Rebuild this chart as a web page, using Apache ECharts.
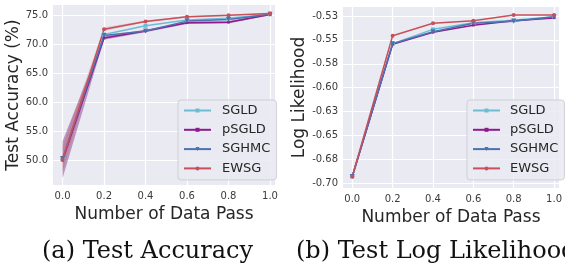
<!DOCTYPE html>
<html>
<head>
<meta charset="utf-8">
<script src="https://cdn.jsdelivr.net/npm/echarts@6/dist/echarts.min.js"></script>
<style>
  html, body { margin: 0; padding: 0; background: #fff; }
  #chart { width: 565px; height: 266px; }
</style>
</head>
<body>
<div id="chart"></div>
<script>
// data pass fractions on the x axis
const passes = [0.0, 0.2, 0.4, 0.6, 0.8, 1.0];
const methods = ['SGLD', 'pSGLD', 'SGHMC', 'EWSG'];

// (a) test accuracy, %
const accSGLD  = [50.2, 71.7, 73.2, 74.2, 74.5, 75.2];
const accPSGLD = [50.0, 71.1, 72.3, 73.7, 73.8, 75.15];
const accSGHMC = [50.3, 71.5, 72.3, 74.0, 74.3, 75.2];
const accEWSG  = [50.1, 72.6, 73.95, 74.75, 75.0, 75.3];
// shaded spread around pSGLD and EWSG
const bandPSGLDLow  = [46.9, 70.8, 72.1, 73.5, 73.6, 75.0];
const bandPSGLDHigh = [53.3, 71.4, 72.5, 73.9, 74.0, 75.3];
const bandEWSGLow   = [48.0, 72.3, 73.8, 74.6, 74.9, 75.2];
const bandEWSGHigh  = [52.4, 72.9, 74.1, 74.9, 75.1, 75.4];

// (b) test log likelihood
const llSGLD  = [-0.693, -0.554, -0.539, -0.532, -0.5295, -0.5257];
const llPSGLD = [-0.693, -0.5546, -0.542, -0.5347, -0.530, -0.527];
const llSGHMC = [-0.693, -0.554, -0.5414, -0.5326, -0.5305, -0.5257];
const llEWSG  = [-0.693, -0.5456, -0.5326, -0.5299, -0.524, -0.524];

// tick labels
const accTicks = [50, 55, 60, 65, 70, 75];
const accTickLabels = ['50.0', '55.0', '60.0', '65.0', '70.0', '75.0'];
const llTicks = [-0.7, -0.675, -0.65, -0.625, -0.6, -0.575, -0.55, -0.525];
const llTickLabels = ['-0.70', '-0.68', '-0.65', '-0.63', '-0.60', '-0.58', '-0.55', '-0.53'];
const passTicks = [0, 0.2, 0.4, 0.6, 0.8, 1.0];
const passTickLabels = ['0.0', '0.2', '0.4', '0.6', '0.8', '1.0'];

const colors = { SGLD: '#6cbcd6', pSGLD: '#8e1a8e', SGHMC: '#4c72b0', EWSG: '#c8505a' };
const symbols = { SGLD: 'rect', pSGLD: 'rect', SGHMC: 'triangle', EWSG: 'circle' };
const symbolSizes = { SGLD: 4, pSGLD: 2.5, SGHMC: 5, EWSG: 4 };

const chart = echarts.init(document.getElementById('chart'));
const font = 'DejaVu Sans';

function xAxisFor(gridIndex) {
    return {
        type: 'value', gridIndex: gridIndex, min: -0.046, max: 1.024,
        name: 'Number of Data Pass', nameLocation: 'middle', nameGap: 15,
        nameTextStyle: { fontFamily: font, fontSize: 17, color: '#262626' },
        axisLine: { show: false }, axisTick: { show: false, customValues: passTicks },
        axisLabel: {
            customValues: passTicks, fontFamily: font, fontSize: 10, color: '#3a3a3a', margin: 6,
            formatter: v => passTickLabels[passTicks.findIndex(t => Math.abs(t - v) < 1e-6)]
        },
        splitLine: { show: true, lineStyle: { color: '#ffffff', width: 1.2 } }
    };
}

function yAxisFor(gridIndex, min, max, ticks, labels, name, gap) {
    return {
        type: 'value', gridIndex: gridIndex, min: min, max: max,
        name: name, nameLocation: 'middle', nameGap: gap,
        nameTextStyle: { fontFamily: font, fontSize: 17, color: '#262626' },
        axisLine: { show: false }, axisTick: { show: false, customValues: ticks },
        axisLabel: {
            customValues: ticks, fontFamily: font, fontSize: 10, color: '#3a3a3a', margin: 5,
            formatter: v => labels[ticks.findIndex(t => Math.abs(t - v) < 1e-6)]
        },
        splitLine: { show: true, lineStyle: { color: '#ffffff', width: 1.2 } }
    };
}

function lineSeries(name, values, axisIndex) {
    return {
        name: name, type: 'line', xAxisIndex: axisIndex, yAxisIndex: axisIndex,
        data: passes.map((x, i) => [x, values[i]]),
        symbol: symbols[name], symbolSize: symbolSizes[name],
        symbolRotate: name === 'SGHMC' ? 180 : 0,
        showSymbol: true, z: 3,
        lineStyle: { color: colors[name], width: 1.5 },
        itemStyle: { color: colors[name] },
        emphasis: { disabled: true }
    };
}

// shaded band drawn as one polygon through the axis scales
function bandSeries(low, high, color) {
    return {
        type: 'custom', xAxisIndex: 0, yAxisIndex: 0, silent: true, z: 1,
        data: passes.map(x => [x]),
        encode: { x: 0 },
        renderItem: function (params, api) {
            if (params.dataIndex !== 0) return;
            const pts = [];
            passes.forEach((x, i) => pts.push(api.coord([x, high[i]])));
            for (let i = passes.length - 1; i >= 0; i--) pts.push(api.coord([passes[i], low[i]]));
            return { type: 'polygon', shape: { points: pts }, style: { fill: color } };
        }
    };
}

function legendFor(left, top, textGap) {
    return {
        data: methods, orient: 'vertical', left: left, top: top,
        itemGap: 6.3, itemWidth: 27, itemHeight: 5, padding: [4, 6, 5, 5],
        backgroundColor: 'rgba(234,234,242,0.85)', borderColor: '#cfcfd6', borderWidth: 1, borderRadius: 3,
        textStyle: { fontFamily: font, fontSize: 13, color: '#262626', padding: [0, 0, 0, textGap] },
        selectedMode: false
    };
}

const option = {
    animation: false,
    grid: [
        { left: 53, top: 5, width: 222, height: 180, backgroundColor: '#eaeaf2', show: true, borderWidth: 0 },
        { left: 343, top: 7, width: 222, height: 181, backgroundColor: '#eaeaf2', show: true, borderWidth: 0 }
    ],
    xAxis: [xAxisFor(0), xAxisFor(1)],
    yAxis: [
        yAxisFor(0, 45.74, 76.78, accTicks, accTickLabels, 'Test Accuracy (%)', 23),
        yAxisFor(1, -0.705, -0.5156, llTicks, llTickLabels, 'Log Likelihood', 26)
    ],
    legend: [legendFor(178, 100, 6), legendFor(467, 100, 5)],
    series: [
        bandSeries(bandPSGLDLow, bandPSGLDHigh, 'rgba(120,30,125,0.42)'),
        bandSeries(bandEWSGLow, bandEWSGHigh, 'rgba(196,78,82,0.25)'),
        lineSeries('SGLD', accSGLD, 0),
        lineSeries('pSGLD', accPSGLD, 0),
        lineSeries('SGHMC', accSGHMC, 0),
        lineSeries('EWSG', accEWSG, 0),
        lineSeries('SGLD', llSGLD, 1),
        lineSeries('pSGLD', llPSGLD, 1),
        lineSeries('SGHMC', llSGHMC, 1),
        lineSeries('EWSG', llEWSG, 1)
    ],
    graphic: [
        { type: 'text', x: 42, y: 252,
          style: { text: '(a) Test Accuracy', font: '24px "DejaVu Serif"', fill: '#111', verticalAlign: 'middle' } },
        { type: 'text', x: 296, y: 252,
          style: { text: '(b) Test Log Likelihood', font: '24px "DejaVu Serif"', fill: '#111', verticalAlign: 'middle' } }
    ]
};

chart.setOption(option);
window.addEventListener('resize', () => chart.resize());
</script>
</body>
</html>
